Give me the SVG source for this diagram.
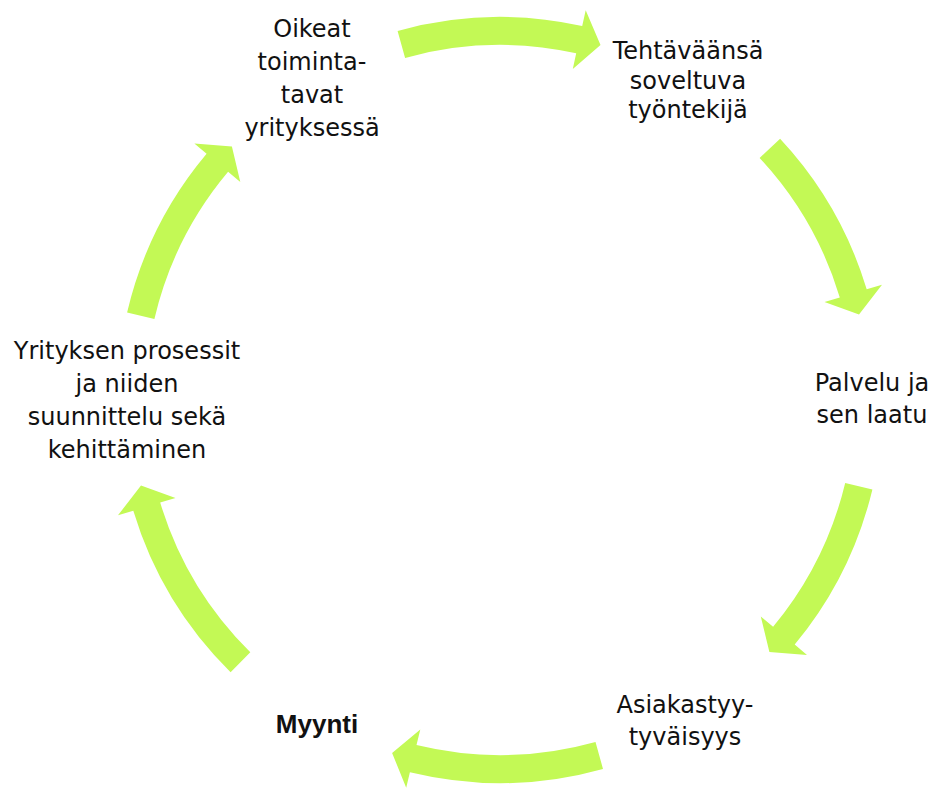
<svg xmlns="http://www.w3.org/2000/svg" width="938" height="789" viewBox="0 0 938 789">
<style>
.arr{fill:#c3f955;stroke:none}
.t{font-family:"DejaVu Sans",Verdana,sans-serif;font-size:24px;fill:#111;text-anchor:middle}
.b{font-family:"Liberation Sans",Arial,sans-serif;font-size:26px;font-weight:bold;fill:#111;text-anchor:middle}
</style>
<rect width="938" height="789" fill="#fff"/>
<g id="connectors">
<path class="arr" d="M397.6 30.9 A383 383 0 0 1 582.2 25.9 L585.7 10.3 L600.5 44.9 L572.8 68.9 L576.2 53.3 A355 355 0 0 0 405.1 57.9 Z"/>
<path class="arr" d="M780.1 138.8 A383 383 0 0 1 866.7 289.3 L882.0 284.7 L859.0 314.5 L824.5 302.0 L839.8 297.4 A355 355 0 0 0 759.6 157.9 Z"/>
<path class="arr" d="M872.4 489.4 A383 383 0 0 1 794.7 644.6 L807.0 654.9 L769.4 652.1 L760.8 616.5 L773.1 626.8 A355 355 0 0 0 845.2 482.9 Z"/>
<path class="arr" d="M603.0 768.9 A383 383 0 0 1 409.9 772.3 L406.2 787.8 L392.1 752.9 L420.3 729.5 L416.5 745.0 A355 355 0 0 0 595.5 741.9 Z"/>
<path class="arr" d="M230.6 672.2 A383 383 0 0 1 133.3 510.7 L118.0 515.3 L141.0 485.5 L175.5 498.0 L160.2 502.6 A355 355 0 0 0 250.3 652.3 Z"/>
<path class="arr" d="M127.1 312.5 A383 383 0 0 1 206.6 153.8 L194.4 143.5 L231.9 146.5 L240.3 182.1 L228.1 171.8 A355 355 0 0 0 154.4 318.9 Z"/>
</g>
<g id="node-oikeat">
<text class="t" x="312" y="37">Oikeat</text>
<text class="t" x="312" y="70">toiminta-</text>
<text class="t" x="312" y="103">tavat</text>
<text class="t" x="312" y="136">yrityksessä</text>
</g>
<g id="node-tehtavaansa">
<text class="t" x="688" y="59">Tehtäväänsä</text>
<text class="t" x="688" y="89">soveltuva</text>
<text class="t" x="688" y="118">työntekijä</text>
</g>
<g id="node-palvelu">
<text class="t" x="872" y="391">Palvelu ja</text>
<text class="t" x="872" y="423">sen laatu</text>
</g>
<g id="node-asiakastyytyvaisyys">
<text class="t" x="685" y="713">Asiakastyy-</text>
<text class="t" x="685" y="745">tyväisyys</text>
</g>
<g id="node-myynti">
<text class="b" x="317" y="733">Myynti</text>
</g>
<g id="node-prosessit">
<text class="t" x="127" y="359">Yrityksen prosessit</text>
<text class="t" x="127" y="392">ja niiden</text>
<text class="t" x="127" y="425">suunnittelu sekä</text>
<text class="t" x="127" y="458">kehittäminen</text>
</g>
</svg>
